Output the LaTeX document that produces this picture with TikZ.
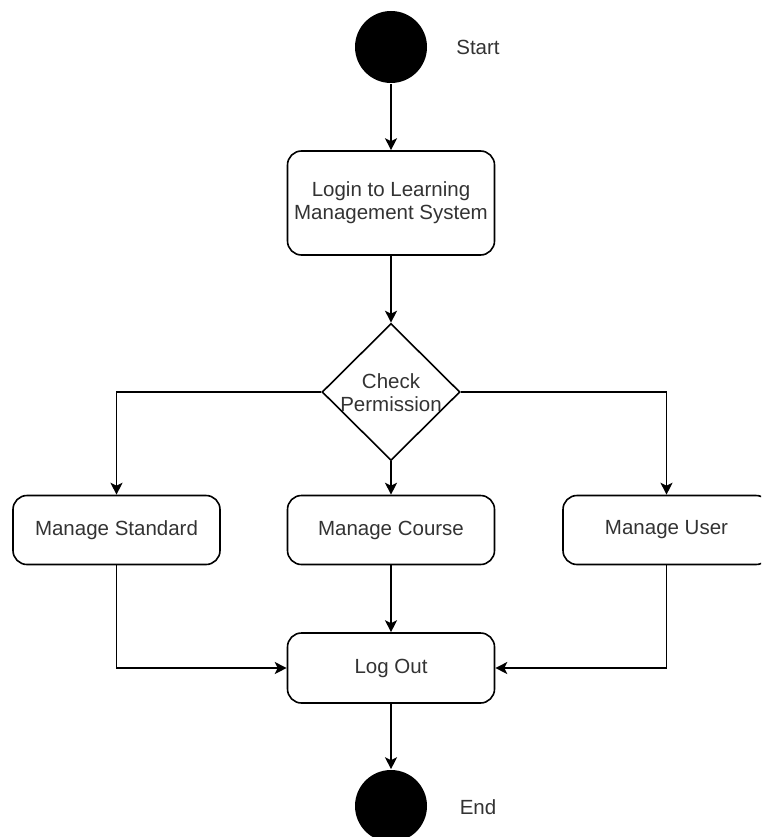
\documentclass[tikz,border=0pt]{standalone}
\usepackage{fontspec}
\setmainfont{Liberation Sans}
\usetikzlibrary{shapes.geometric,arrows.meta}
\definecolor{txt}{HTML}{333333}
\begin{document}
\begin{tikzpicture}[x=1pt,y=-1pt,line width=1.6pt,
  box/.style={draw, rounded corners=14pt, minimum width=207pt, minimum height=69pt, inner sep=0pt,
    font=\fontsize{20.5}{23}\selectfont, text=txt, align=center},
  dot/.style={circle, fill=black, minimum size=72pt, inner sep=0pt},
  dec/.style={diamond, draw, minimum width=138pt, minimum height=137pt, inner sep=0pt, aspect=1},
  lbl/.style={font=\fontsize{20.5}{23}\selectfont, text=txt, align=center, inner sep=0pt},
  arr/.style={-{Stealth[length=12pt,width=12pt,inset=3pt]}}]
\useasboundingbox (0,0) rectangle (761,837);
\clip (0,0) rectangle (761,837);
\node[dot] (start) at (391,47) {};
\node[lbl] (starttxt) at (478,47) {Start};
\node[box, minimum height=104pt] (login) at (391,203) {Login to Learning\\Management System};
\node[dec] (check) at (391,392) {};
\node[lbl] (checktxt) at (391,393) {Check\\Permission};
\node[box] (std) at (116.5,530) {Manage Standard};
\node[box] (course) at (391,530) {Manage Course};
\node[box] (user) at (666.5,530) {Manage User};
\node[box, minimum height=70pt] (logout) at (391,668) {Log Out};
\node[dot] (end) at (391,806) {};
\node[lbl] (endtxt) at (478,807) {End};
\draw[arr] (start) -- (login);
\draw[arr] (login) -- (check);
\draw[arr] (check.west) -| (std.north);
\draw[arr] (check.east) -| (user.north);
\draw[arr] (check) -- (course);
\draw[arr] (course) -- (logout);
\draw[arr] (std.south) |- (logout.west);
\draw[arr] (user.south) |- (logout.east);
\draw[arr] (logout) -- (end);
\end{tikzpicture}
\end{document}
